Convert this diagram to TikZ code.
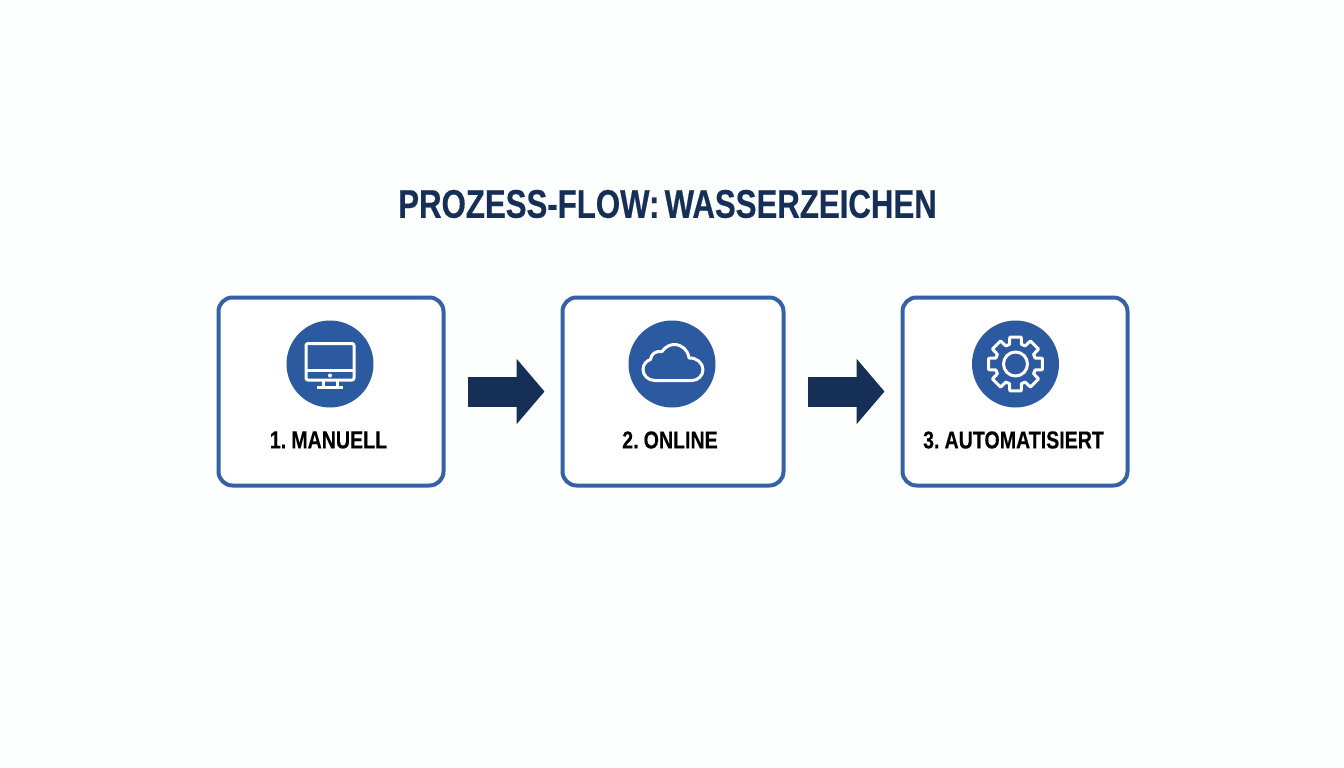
\documentclass[tikz,border=0pt]{standalone}
\usepackage{fontspec}
\usetikzlibrary{arrows.meta}
\setmainfont{Liberation Sans}
\newfontfamily\narrowfont[FakeStretch=0.78, FakeBold=0.4, WordSpace=0.6]{Liberation Sans Bold}
\newfontfamily\labelfont[FakeStretch=0.8, FakeBold=0.3, WordSpace=0.6]{Liberation Sans Bold}
\definecolor{pagebg}{HTML}{FDFEFE}
\definecolor{boxblue}{HTML}{3661A6}
\definecolor{discblue}{HTML}{2C5AA0}
\definecolor{navy}{HTML}{162F57}
\tikzset{
    stepbox/.style={rectangle, draw=boxblue, line width=4pt, rounded corners=14pt, fill=white, minimum height=188pt, inner sep=0pt},
    disc/.style={circle, fill=discblue, minimum size=87pt, inner sep=0pt},
    icon/.style={draw=white, line width=3pt, line join=round},
    steplabel/.style={text=black, font=\labelfont\fontsize{24.5}{24.5}\selectfont, inner sep=0pt},
    flow/.style={draw=navy, line width=30pt, -{Triangle[length=28pt, width=64pt]}, shorten <=22pt, shorten >=16pt}
}

\begin{document}
\begin{tikzpicture}[x=1pt, y=-1pt]
    \useasboundingbox (0, 0) rectangle (1344, 768);
    \fill[pagebg] (0, 0) rectangle (1344, 768);

    \node at (667.5, 204) [text=navy, font=\narrowfont\fontsize{40}{40}\selectfont, inner sep=0pt] (title) {PROZESS-FLOW: WASSERZEICHEN};

    \node at (331, 391.5) [stepbox, minimum width=225pt] (manuell) {};
    \node at (673, 391.5) [stepbox, minimum width=221pt] (online) {};
    \node at (1015, 391.5) [stepbox, minimum width=225pt] (auto) {};

    \node at (330, 364) [disc] (monitor) {};
    \node at (672, 364) [disc] (cloud) {};
    \node at (1015.5, 364) [disc] (gear) {};

    \node at (328.5, 440) [steplabel] (manuelltext) {1. MANUELL};
    \node at (670, 440) [steplabel] (onlinetext) {2. ONLINE};
    \node at (1013.5, 440) [steplabel] (autotext) {3. AUTOMATISIERT};

    \draw [flow] (manuell) -- (online);
    \draw [flow] (online) -- (auto);

    \begin{scope}[shift={(monitor.center)}]
    \draw [icon, rounded corners=2pt] (-24, -20.5) rectangle (24, 16);
    \draw [icon] (-24, 6.5) -- (24, 6.5);
    \fill [white] (0, 11.5) circle (2pt);
    \draw [icon] (-7, 16) -- (-7, 23);
    \draw [icon] (7, 16) -- (7, 23);
    \draw [icon] (-13, 23) -- (13, 23);
    \end{scope}

    \begin{scope}[shift={(cloud.center)}]
    \draw [icon] (-17, 16.5) .. controls (-24, 16.5) and (-29, 11.5) .. (-29, 5.5)
        .. controls (-29, 0) and (-25, -3.5) .. (-21.5, -4.5)
        .. controls (-21, -10) and (-16, -13.5) .. (-10, -12.5)
        .. controls (-7, -17) and (-2, -19.5) .. (2, -19.5)
        .. controls (10, -19.5) and (16, -14) .. (17, -6)
        .. controls (24.5, -6.5) and (31, -1) .. (31, 5.5)
        .. controls (31, 11.5) and (26, 16.5) .. (20, 16.5) -- cycle;
    \end{scope}

    \begin{scope}[shift={(gear.center)}]
    \draw [icon] (-12:27.5) \foreach \a in {0, 45, ..., 315} {
        -- ({\a-12}:27.5) -- ({\a+12}:27.5) -- ({\a+17}:20.5) -- ({\a+28}:20.5)
    } -- cycle;
    \draw [icon] (0, 0) circle (12pt);
    \end{scope}
\end{tikzpicture}
\end{document}
